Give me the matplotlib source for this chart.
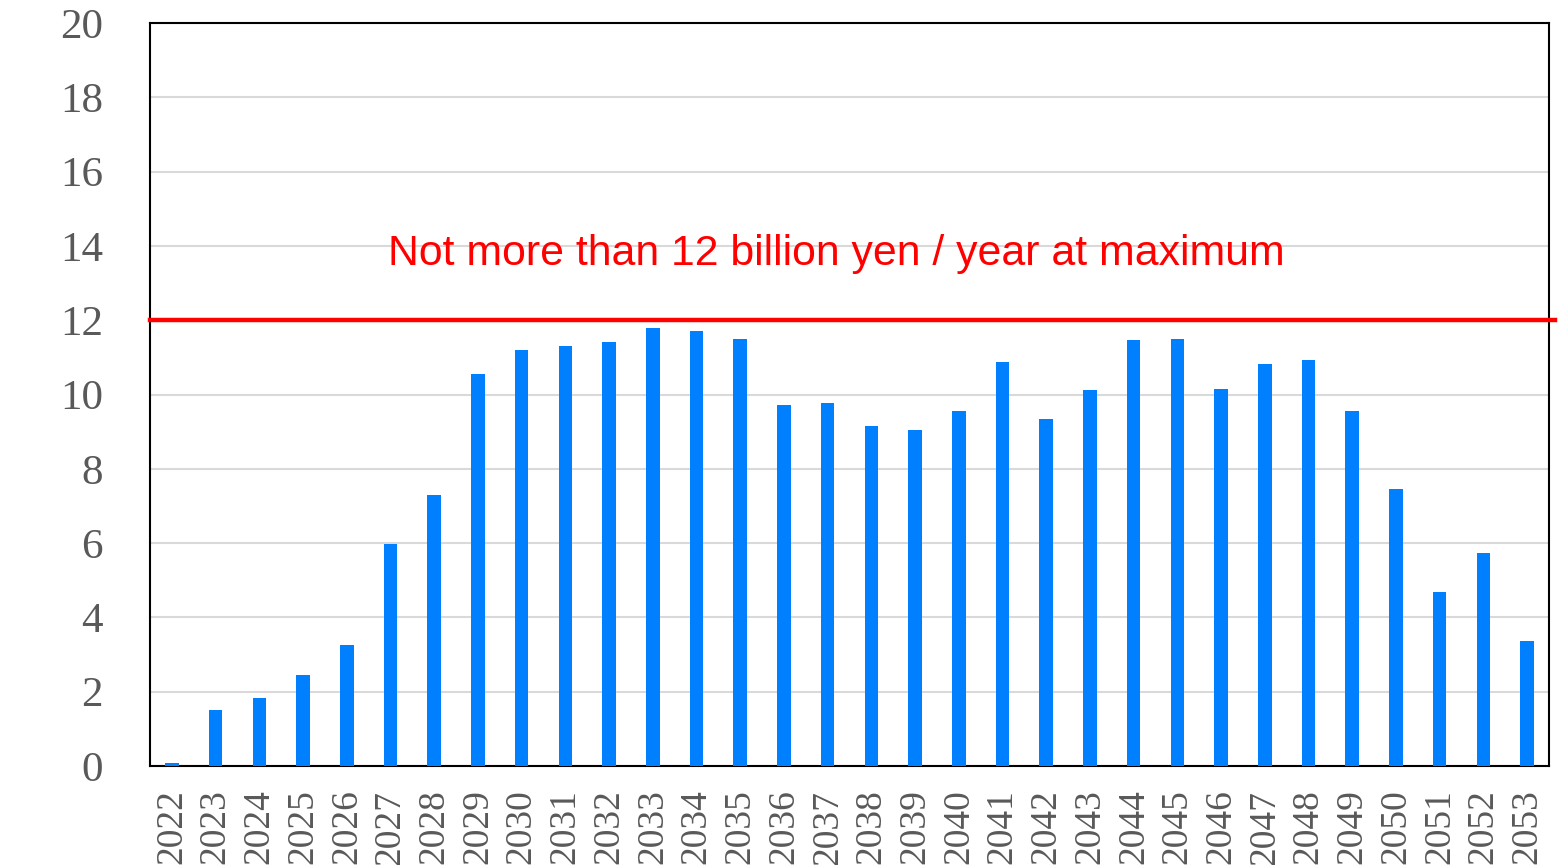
import matplotlib
matplotlib.use("Agg")
import matplotlib.pyplot as plt

# annual cost (billion yen)
years = [str(y) for y in range(2022, 2054)]
values = [0.08, 1.51, 1.83, 2.45, 3.26, 5.98, 7.29, 10.55, 11.2, 11.3,
          11.41, 11.79, 11.71, 11.49, 9.72, 9.77, 9.15, 9.04, 9.56, 10.87,
          9.34, 10.12, 11.47, 11.49, 10.15, 10.82, 10.93, 9.56, 7.46, 4.68,
          5.73, 3.36]
cap_value = 12
cap_label = "Not more than 12 billion yen / year at maximum"
y_ticks = list(range(0, 21, 2))

fig = plt.figure(figsize=(15.66, 8.65), dpi=100)
ax = fig.add_axes([150 / 1566, 99 / 865, 1399 / 1566, 743 / 865])

x = list(range(len(years)))
ax.bar(x, values, width=0.31, color="#0080ff", zorder=3)

ax.axhline(cap_value, xmin=0, xmax=1.0045, color="#ff0000", lw=3.2, zorder=4, clip_on=False)
ax.text(15.19, 13.49, cap_label, color="#ff0000", fontsize=30.8,
        family="Liberation Sans", ha="center", va="baseline")

ax.set_xlim(-0.5, len(years) - 0.5)
ax.set_ylim(0, 20)
ax.set_yticks(y_ticks)
ax.set_yticklabels([str(t) for t in y_ticks])
ax.set_xticks(x)
ax.set_xticklabels(years, rotation=90, va="top")
ax.grid(axis="y", color="#d9d9d9", lw=1.5, zorder=0)
ax.tick_params(axis="y", length=0, pad=34, labelsize=31, labelcolor="#595959")
ax.tick_params(axis="x", length=0, pad=17, labelsize=27, labelcolor="#595959")
for lab in ax.get_xticklabels() + ax.get_yticklabels():
    lab.set_family("Liberation Serif")
for s in ax.spines.values():
    s.set_linewidth(1.5)
    s.set_color("black")

fig.savefig("out.png", dpi=100)
